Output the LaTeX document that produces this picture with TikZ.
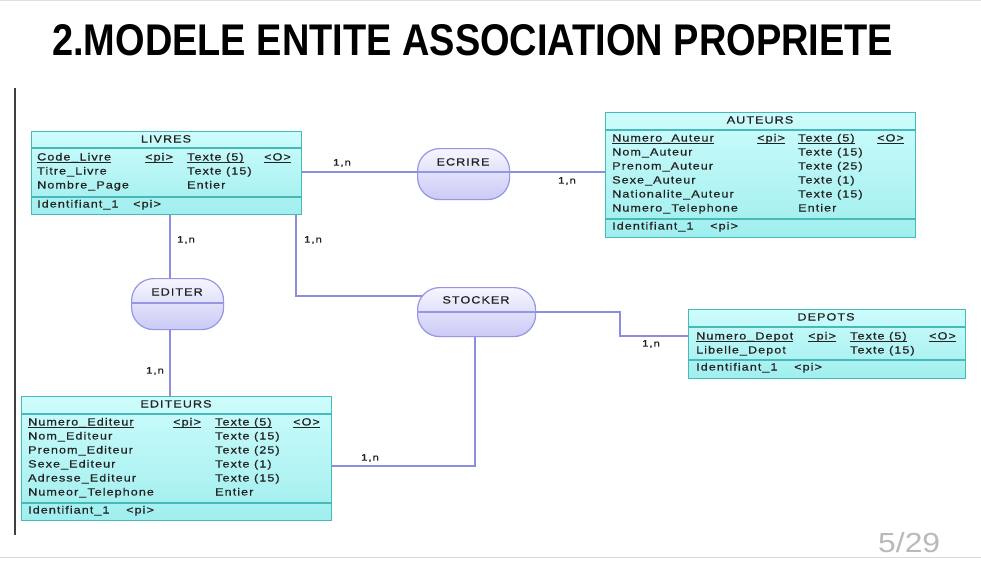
\documentclass[tikz,border=0pt]{standalone}
\usepackage{fontspec}
\setmainfont{Liberation Sans}
\newfontfamily\erfont[FakeStretch=1.2,LetterSpace=10,FakeBold=0.6]{Liberation Sans}
\newfontfamily\titlefont{Liberation Sans}
\usetikzlibrary{calc}
\pgfdeclarelayer{bg}
\pgfsetlayers{bg,main}
\newcommand\keyul[1]{\setbox0\hbox{#1}\rlap{\rule[-1.8pt]{\wd0}{0.7pt}}\box0}
\definecolor{entfillA}{RGB}{205,252,252}
\definecolor{entfillB}{RGB}{160,238,238}
\definecolor{entline}{RGB}{70,185,185}
\definecolor{assfillA}{RGB}{246,246,255}
\definecolor{assfillB}{RGB}{202,202,246}
\definecolor{assline}{RGB}{150,150,230}
\definecolor{linkc}{RGB}{140,140,225}
\definecolor{txtc}{RGB}{35,35,35}
\definecolor{pagec}{RGB}{185,185,185}
\tikzset{
  entity/.style={draw=entline, line width=1.3pt, top color=entfillA, bottom color=entfillB,
    anchor=north west, inner sep=0pt},
  assoc/.style={draw=assline, line width=1.2pt, top color=assfillA, bottom color=assfillB,
    rounded corners=22pt, anchor=north west, inner sep=0pt},
  eline/.style={draw=entline, line width=1.1pt},
  aline/.style={draw=assline, line width=1.1pt},
  link/.style={draw=linkc, line width=1.2pt},
  attr/.style={anchor=west, inner sep=0pt, text height=7pt, text depth=2pt,
    font=\erfont\fontsize{10.5}{12}\selectfont, text=txtc},
  etitle/.style={inner sep=0pt, text height=7pt, text depth=2pt,
    font=\erfont\fontsize{10.5}{12}\selectfont, text=txtc},
  card/.style={inner sep=0pt, font=\erfont\fontsize{9.5}{11}\selectfont, text=txtc},
}
\begin{document}
\begin{tikzpicture}[x=1pt,y=-1pt]
\useasboundingbox (0,0) rectangle (981,560);
\begin{pgfonlayer}{bg}
\fill[white] (0,0) rectangle (981,560);
\end{pgfonlayer}
\draw[black!12, line width=1pt] (0,0.5) -- (981,0.5);
\draw[black!15, line width=1.2pt] (0,557.5) -- (981,557.5);
\draw[black!75, line width=1.6pt] (15,88) -- (15,535);

% title
\node[anchor=north west, inner sep=0pt] (title) at (52,24)
  {\resizebox{841pt}{31pt}{\titlefont\bfseries 2.MODELE ENTITE ASSOCIATION PROPRIETE}};
\node[anchor=north west, inner sep=0pt, text=pagec] (page) at (878,532)
  {\resizebox{62pt}{20pt}{\titlefont 5/29}};

% ---------- entities ----------
% LIVRES
\node[entity, minimum width=270pt, minimum height=83pt] (livres) at (31,131) {};
\draw[eline] ($(livres.north west)+(0,17)$) -- ($(livres.north east)+(0,17)$);
\draw[eline] ($(livres.north west)+(0,66)$) -- ($(livres.north east)+(0,66)$);
\node[etitle] (livres-t) at (166,140) {LIVRES};
\node[attr] (livres-k1) at (37,158) {\keyul{Code\_Livre}};
\node[attr] (livres-k2) at (145,158) {\keyul{<pi>}};
\node[attr] (livres-k3) at (187,158) {\keyul{Texte (5)}};
\node[attr] (livres-k4) at (264,158) {\keyul{<O>}};
\foreach \yy/\na/\ty [count=\i] in {172/Titre\_Livre/Texte (15), 186/Nombre\_Page/Entier}{
  \node[attr] (livres-a\i) at (37,\yy) {\na};
  \node[attr] (livres-b\i) at (187,\yy) {\ty};
}
\node[attr] (livres-id) at (37,205) {Identifiant\_1};
\node[attr] (livres-pi) at (133,205) {<pi>};

% AUTEURS
\node[entity, minimum width=310pt, minimum height=125pt] (auteurs) at (605,112) {};
\draw[eline] ($(auteurs.north west)+(0,18)$) -- ($(auteurs.north east)+(0,18)$);
\draw[eline] ($(auteurs.north west)+(0,107)$) -- ($(auteurs.north east)+(0,107)$);
\node[etitle] (auteurs-t) at (760,121) {AUTEURS};
\node[attr] (auteurs-k1) at (612,139) {\keyul{Numero\_Auteur}};
\node[attr] (auteurs-k2) at (757,139) {\keyul{<pi>}};
\node[attr] (auteurs-k3) at (798,139) {\keyul{Texte (5)}};
\node[attr] (auteurs-k4) at (877,139) {\keyul{<O>}};
\foreach \yy/\na/\ty [count=\i] in {153/Nom\_Auteur/Texte (15), 167/Prenom\_Auteur/Texte (25),
   181/Sexe\_Auteur/Texte (1), 195/Nationalite\_Auteur/Texte (15), 209/Numero\_Telephone/Entier}{
  \node[attr] (auteurs-a\i) at (612,\yy) {\na};
  \node[attr] (auteurs-b\i) at (798,\yy) {\ty};
}
\node[attr] (auteurs-id) at (612,227) {Identifiant\_1};
\node[attr] (auteurs-pi) at (710,227) {<pi>};

% EDITEURS
\node[entity, minimum width=310pt, minimum height=124pt] (editeurs) at (21,396) {};
\draw[eline] ($(editeurs.north west)+(0,18)$) -- ($(editeurs.north east)+(0,18)$);
\draw[eline] ($(editeurs.north west)+(0,107)$) -- ($(editeurs.north east)+(0,107)$);
\node[etitle] (editeurs-t) at (176,405) {EDITEURS};
\node[attr] (editeurs-k1) at (28,423) {\keyul{Numero\_Editeur}};
\node[attr] (editeurs-k2) at (173,423) {\keyul{<pi>}};
\node[attr] (editeurs-k3) at (215,423) {\keyul{Texte (5)}};
\node[attr] (editeurs-k4) at (293,423) {\keyul{<O>}};
\foreach \yy/\na/\ty [count=\i] in {437/Nom\_Editeur/Texte (15), 451/Prenom\_Editeur/Texte (25),
   465/Sexe\_Editeur/Texte (1), 479/Adresse\_Editeur/Texte (15), 493/Numeor\_Telephone/Entier}{
  \node[attr] (editeurs-a\i) at (28,\yy) {\na};
  \node[attr] (editeurs-b\i) at (215,\yy) {\ty};
}
\node[attr] (editeurs-id) at (28,511) {Identifiant\_1};
\node[attr] (editeurs-pi) at (126,511) {<pi>};

% DEPOTS
\node[entity, minimum width=277pt, minimum height=69pt] (depots) at (688,309) {};
\draw[eline] ($(depots.north west)+(0,18)$) -- ($(depots.north east)+(0,18)$);
\draw[eline] ($(depots.north west)+(0,51)$) -- ($(depots.north east)+(0,51)$);
\node[etitle] (depots-t) at (826,318) {DEPOTS};
\node[attr] (depots-k1) at (696,337) {\keyul{Numero\_Depot}};
\node[attr] (depots-k2) at (808,337) {\keyul{<pi>}};
\node[attr] (depots-k3) at (850,337) {\keyul{Texte (5)}};
\node[attr] (depots-k4) at (929,337) {\keyul{<O>}};
\node[attr] (depots-a1) at (696,351) {Libelle\_Depot};
\node[attr] (depots-b1) at (850,351) {Texte (15)};
\node[attr] (depots-id) at (696,368) {Identifiant\_1};
\node[attr] (depots-pi) at (794,368) {<pi>};

% ---------- associations ----------
\node[assoc, minimum width=92pt, minimum height=51pt] (ecrire) at (417,148) {};
\draw[aline] ($(ecrire.north west)+(0,24)$) coordinate (ecrire-w) -- ($(ecrire.north east)+(0,24)$) coordinate (ecrire-e);
\node[etitle] (ecrire-t) at (463,163) {ECRIRE};

\node[assoc, minimum width=92pt, minimum height=51pt] (editer) at (131,278) {};
\draw[aline] ($(editer.north west)+(0,25)$) -- ($(editer.north east)+(0,25)$);
\node[etitle] (editer-t) at (177,293) {EDITER};

\node[assoc, minimum width=118pt, minimum height=49pt] (stocker) at (417,287) {};
\draw[aline] ($(stocker.north west)+(0,25)$) coordinate (stocker-w) -- ($(stocker.north east)+(0,25)$) coordinate (stocker-e);
\node[etitle] (stocker-t) at (476,301) {STOCKER};

% ---------- connectors ----------
\coordinate (ced) at (170,0);
\coordinate (k1) at (296,296);
\coordinate (k2) at (620,336);
\coordinate (k3) at (475,466);
\begin{pgfonlayer}{bg}
\draw[link] (ecrire-w -| livres.east) -- (ecrire-w);
\draw[link] (ecrire-e) -- (ecrire-e -| auteurs.west);
\draw[link] (livres.south -| ced) -- (editer.north -| ced);
\draw[link] (editer.south -| ced) -- (editeurs.north -| ced);
\draw[link] (livres.south -| k1) -- (k1) -- (k1 -| stocker.center);
\draw[link] (stocker-e) -| (k2) -- (k2 -| depots.west);
\draw[link] (stocker.center -| k3) -- (k3) -- (k3 -| editeurs.east);
\end{pgfonlayer}

% cardinalities
\node[card] (c1) at (342,163) {1,n};
\node[card] (c2) at (567,181) {1,n};
\node[card] (c3) at (186,240) {1,n};
\node[card] (c4) at (313,240) {1,n};
\node[card] (c5) at (155,371) {1,n};
\node[card] (c6) at (651,344) {1,n};
\node[card] (c7) at (370,458) {1,n};
\end{tikzpicture}
\end{document}
